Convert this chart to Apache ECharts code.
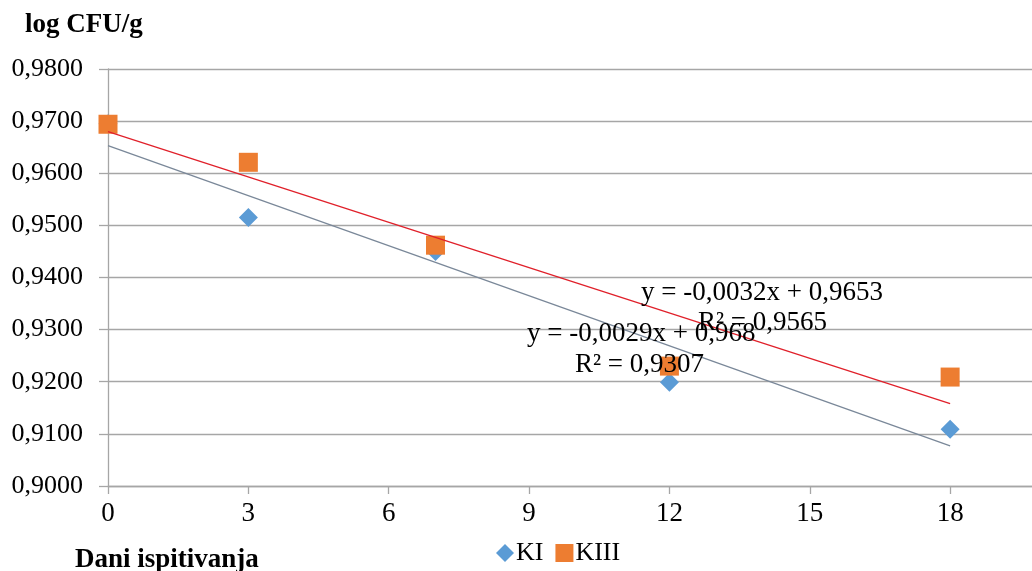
<!DOCTYPE html>
<html>
<head>
<meta charset="utf-8">
<script src="https://cdn.jsdelivr.net/npm/echarts@6/dist/echarts.min.js"></script>
<style>
  html, body { margin: 0; padding: 0; background: #fff; }
  #chart { width: 1032px; height: 571px; }
</style>
</head>
<body>
<div id="chart"></div>
<script>
// Days of testing and measured counts (log CFU/g)
const days = [0, 3, 7, 12, 18];
const kiValues = [0.9695, 0.9515, 0.9450, 0.9199, 0.9109];
const kiiiValues = [0.9694, 0.9621, 0.9462, 0.9230, 0.9209];

// Linear trend coefficients and R² values
const kiTrend = { slope: -0.0032, intercept: 0.9653, r2: '0,9565', text: 'y = -0,0032x + 0,9653' };
const kiiiTrend = { slope: -0.0029, intercept: 0.968, r2: '0,9307', text: 'y = -0,0029x + 0,968' };

const FONT = '"Liberation Serif", "Times New Roman", serif';

const pairs = (xs, ys) => xs.map((x, i) => [x, ys[i]]);
const trendLine = (t) => [days[0], days[days.length - 1]].map(x => [x, t.intercept + t.slope * x]);

const chart = echarts.init(document.getElementById('chart'), null, { renderer: 'canvas' });

const label = (text, x, y, font) => ({
  type: 'text', x: x, y: y, z: 10,
  style: { text: text, font: font, fill: '#000', verticalAlign: 'middle', align: 'left' }
});

chart.setOption({
  animation: false,
  backgroundColor: '#ffffff',
  textStyle: { fontFamily: FONT, color: '#000' },
  grid: { left: 108, top: 69, right: 0, bottom: 85, containLabel: false },
  xAxis: {
    type: 'value',
    min: 0, max: 19.75, interval: 3,
    axisLine: { lineStyle: { color: '#a6a6a6', width: 1.3 } },
    axisTick: { show: true, length: 8, lineStyle: { color: '#a6a6a6', width: 1.3 } },
    splitLine: { show: false },
    axisLabel: { fontFamily: FONT, fontSize: 27, color: '#000', margin: 14, showMaxLabel: false }
  },
  yAxis: {
    type: 'value',
    min: 0.90, max: 0.98, interval: 0.01,
    axisLine: { show: true, lineStyle: { color: '#a6a6a6', width: 1.3 } },
    axisTick: { show: true, length: 9, lineStyle: { color: '#a6a6a6', width: 1.3 } },
    splitLine: { show: true, lineStyle: { color: '#a6a6a6', width: 1.3 } },
    axisLabel: {
      fontFamily: FONT, fontSize: 26, color: '#000', margin: 25,
      formatter: v => v.toFixed(4).replace('.', ',')
    }
  },
  legend: {
    top: 535, left: 491,
    itemGap: 12, itemWidth: 18, itemHeight: 18,
    textStyle: { fontFamily: FONT, fontSize: 26, color: '#000', padding: [0, 0, 0, -3] },
    data: [
      { name: 'KI', icon: 'diamond' },
      { name: 'KIII', icon: 'rect' }
    ]
  },
  series: [
    {
      name: 'KI', type: 'scatter', symbol: 'diamond', symbolSize: 19, z: 2,
      itemStyle: { color: '#5b9bd5', opacity: 1 },
      data: pairs(days, kiValues)
    },
    {
      name: 'KIII', type: 'scatter', symbol: 'rect', symbolSize: 19, z: 2,
      itemStyle: { color: '#ed7d31', opacity: 1 },
      data: pairs(days, kiiiValues)
    },
    {
      name: 'KI trend', type: 'line', showSymbol: false, z: 3, silent: true,
      lineStyle: { color: '#7a8899', width: 1.3 },
      data: trendLine(kiTrend)
    },
    {
      name: 'KIII trend', type: 'line', showSymbol: false, z: 3, silent: true,
      lineStyle: { color: '#e0202a', width: 1.3 },
      data: trendLine(kiiiTrend)
    }
  ],
  graphic: [
    label('log CFU/g', 25, 25, 'bold 27px ' + FONT),
    label('Dani ispitivanja', 75, 560, 'bold 27px ' + FONT),
    label(kiTrend.text, 641, 293, '27px ' + FONT),
    label('R² = ' + kiTrend.r2, 698, 323, '27px ' + FONT),
    label(kiiiTrend.text, 527, 334, '27px ' + FONT),
    label('R² = ' + kiiiTrend.r2, 575, 365, '27px ' + FONT)
  ]
});
</script>
</body>
</html>
